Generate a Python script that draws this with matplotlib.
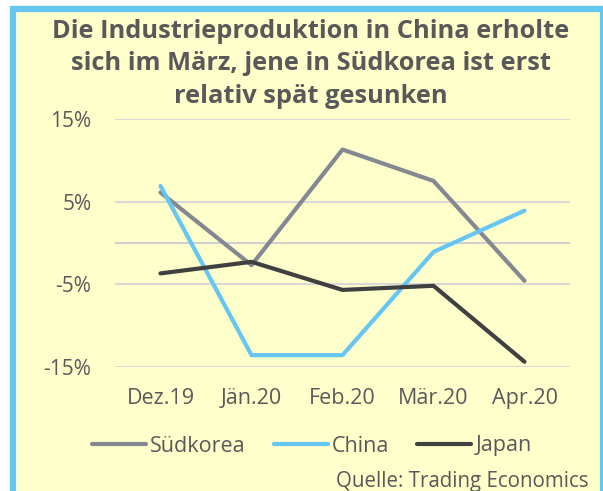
import matplotlib
matplotlib.use('Agg')
import matplotlib.pyplot as plt
from matplotlib.patches import Rectangle
from matplotlib.lines import Line2D

months = ["Dez.19", "Jän.20", "Feb.20", "Mär.20", "Apr.20"]
suedkorea = [6.1, -2.7, 11.3, 7.5, -4.6]
china = [6.9, -13.6, -13.6, -1.1, 3.9]
japan = [-3.7, -2.3, -5.7, -5.2, -14.4]
yticks = [15, 5, -5, -15]
ytick_labels = ["15%", "5%", "-5%", "-15%"]

TEXT = "#595959"
BG = "#FFFFCC"
BLUE = "#66C6F2"
GREY = "#848890"
DARK = "#404040"

plt.rcParams['font.family'] = ['Open Sans', 'DejaVu Sans']

fig = plt.figure(figsize=(6.03, 4.91), dpi=100)
fig.patch.set_facecolor("white")

# yellow panel with blue frame
W, H = 603.0, 491.0
frame = Rectangle((13 / W, -0.05), (603 - 13) / W, (H - 9) / H + 0.05,
                  transform=fig.transFigure, facecolor=BG, edgecolor=BLUE,
                  linewidth=4.5, zorder=-10)
fig.patches.append(frame)

fig.text(0.515, 1 - 64 / H,
         "Die Industrieproduktion in China erholte\nsich im März, jene in Südkorea ist erst\nrelativ spät gesunken",
         ha="center", va="center", fontsize=18.3, fontweight="bold",
         color=TEXT, linespacing=1.4)

ax = fig.add_axes([115 / W, 1 - 366.7 / H, 455 / W, (366.7 - 119) / H])
ax.set_facecolor("none")
x = range(len(months))

for y in yticks:
    ax.axhline(y, color="#D9D9D9", linewidth=1.5, zorder=1)
ax.axhline(0, color="#D0D0D0", linewidth=1.5, zorder=1)

ax.plot(x, suedkorea, color=GREY, linewidth=3, solid_capstyle="round", label="Südkorea", zorder=3)
ax.plot(x, china, color=BLUE, linewidth=3, solid_capstyle="round", label="China", zorder=3)
ax.plot(x, japan, color=DARK, linewidth=3, solid_capstyle="round", label="Japan", zorder=3)

ax.set_xlim(-0.5, len(months) - 0.5)
ax.set_ylim(-15, 15)
ax.set_yticks(yticks)
ax.set_yticklabels(ytick_labels)
ax.set_xticks(list(x))
ax.set_xticklabels(months)
ax.tick_params(length=0, labelsize=15, colors=TEXT)
ax.tick_params(axis="x", labelsize=15.5, pad=15)
ax.tick_params(axis="y", pad=17)
for s in ax.spines.values():
    s.set_visible(False)

handles = [Line2D([0], [0], color=c, lw=3, solid_capstyle="round") for c in [GREY, BLUE, DARK]]
fig.legend(handles, ["Südkorea", "China", "Japan"], loc="center",
           bbox_to_anchor=(312 / W, 1 - 446 / H), ncol=3, frameon=False,
           fontsize=15.5, labelcolor=TEXT, handlelength=2.5, handletextpad=0.2,
           columnspacing=1.3)

fig.text(588 / W, 1 - 481 / H, "Quelle: Trading Economics", ha="right",
         va="center", fontsize=14.8, color=TEXT)

fig.savefig("out.png", dpi=100)
